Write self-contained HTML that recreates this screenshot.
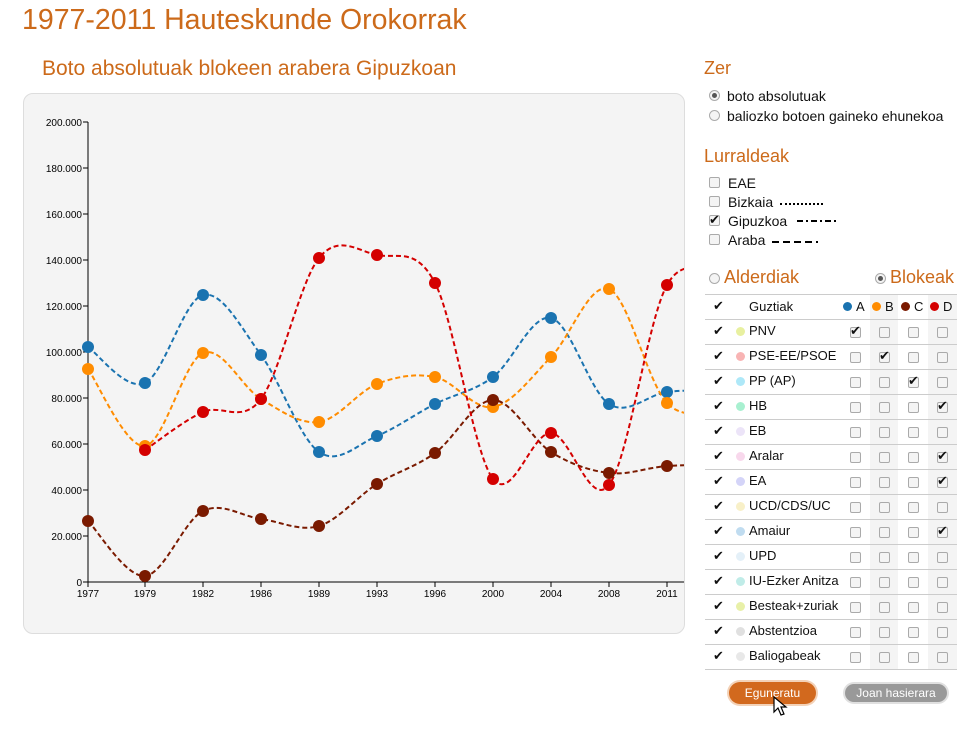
<!DOCTYPE html>
<html><head><meta charset="utf-8">
<style>
body{margin:0;width:979px;height:730px;background:#fff;font-family:"Liberation Sans",sans-serif;position:relative;overflow:hidden}
.t{position:absolute;color:#cc6a1a;white-space:nowrap}
.s{position:absolute;font-size:14px;color:#111;white-space:nowrap}
.rad{position:absolute;width:9px;height:9px;border:1px solid #aaa;border-radius:50%;background:#f4f4f4}
.rad.on::after{content:"";position:absolute;left:2px;top:2px;width:5px;height:5px;border-radius:50%;background:#555}
.cb{position:absolute;width:9px;height:9px;border:1px solid #aaa;border-radius:2px;background:#f4f4f4}
.ck{position:absolute;font-size:13px;color:#111}
</style></head><body>
<div class="t" style="left:22px;top:4px;font-size:28.5px">1977-2011 Hauteskunde Orokorrak</div>
<div class="t" style="left:42px;top:57px;font-size:21px">Boto absolutuak blokeen arabera Gipuzkoan</div>
<div style="position:absolute;left:23px;top:93px;width:660px;height:539px;background:#f4f4f4;border:1px solid #ddd;border-radius:10px"></div>
<svg id="ch" style="position:absolute;left:0;top:0" width="690" height="640"></svg>

<div class="t" style="left:704px;top:58px;font-size:18px">Zer</div>
<div class="rad on" style="left:709px;top:90px"></div><div class="s" style="left:727px;top:88px">boto absolutuak</div>
<div class="rad" style="left:709px;top:110px"></div><div class="s" style="left:727px;top:108px">baliozko botoen gaineko ehunekoa</div>
<div class="t" style="left:704px;top:146px;font-size:18px">Lurraldeak</div>
<div class="cb" style="left:709px;top:177px"></div><div class="s" style="left:728px;top:175px">EAE</div>
<div class="cb" style="left:709px;top:196px"></div><div class="s" style="left:728px;top:194px">Bizkaia</div>
<div style="position:absolute;left:780px;top:203px;width:43px;border-top:2px dotted #000"></div>
<div class="cb" style="left:709px;top:215px"></div><div class="ck" style="left:709px;top:212px">✔</div><div class="s" style="left:728px;top:213px">Gipuzkoa</div>
<svg style="position:absolute;left:797px;top:219px" width="42" height="4"><line x1="0" y1="2" x2="42" y2="2" stroke="#000" stroke-width="2" stroke-dasharray="6,3,2,3"/></svg>
<div class="cb" style="left:709px;top:234px"></div><div class="s" style="left:728px;top:232px">Araba</div>
<svg style="position:absolute;left:772px;top:240px" width="46" height="4"><line x1="0" y1="2" x2="46" y2="2" stroke="#000" stroke-width="2" stroke-dasharray="7,4"/></svg>
<div class="rad" style="left:709px;top:273px"></div><div class="t" style="left:724px;top:267px;font-size:18px">Alderdiak</div>
<div class="rad on" style="left:875px;top:273px"></div><div class="t" style="left:890px;top:267px;font-size:18px">Blokeak</div>
<div id="tbl"></div>
<div style="position:absolute;left:729px;top:682px;width:87px;height:22px;border-radius:12px;background:#d2691e;box-shadow:0 0 0 2px #f3d2b8;color:#fff;font-size:12px;text-align:center;line-height:22px">Eguneratu</div>
<div style="position:absolute;left:845px;top:684px;width:102px;height:18px;border-radius:10px;background:#999;box-shadow:0 0 0 2px #e0e0e0;color:#fff;font-size:12px;text-align:center;line-height:18px">Joan hasierara</div>
<svg style="position:absolute;left:773px;top:696px" width="16" height="22"><path d="M1 1 L1 16 L5 12 L8 19 L11 18 L8 11 L13 11 Z" fill="#fff" stroke="#000" stroke-width="1.2"/></svg>
<script>
var svg=document.getElementById('ch'),h='';
var X=[88,145,203,261,319,377,435,493,551,609,667];
var yrs=[1977,1979,1982,1986,1989,1993,1996,2000,2004,2008,2011];
for(var i=0;i<=10;i++){var y=582-i*46;h+='<line x1="83" y1="'+y+'" x2="88" y2="'+y+'" stroke="#000"/><text x="82" y="'+(y+4)+'" font-size="10" text-anchor="end" font-family="Liberation Sans">'+(i==0?'0':(i*20)+'.000')+'</text>';}
h+='<line x1="88" y1="122" x2="88" y2="582" stroke="#000"/><line x1="88" y1="582" x2="684" y2="582" stroke="#000"/>';
X.forEach(function(x,i){h+='<line x1="'+x+'" y1="582" x2="'+x+'" y2="587" stroke="#000"/><text x="'+x+'" y="597" font-size="10" text-anchor="middle" font-family="Liberation Sans">'+yrs[i]+'</text>';});
var S=[
['#1a73b0',[347,383,295,355,452,436,404,377,318,404,392],0,390],
['#ff8c00',[369,446,353,399,422,384,377,407,357,289,403],0,410],
['#7a1a00',[521,576,511,519,526,484,453,400,452,473,466],0,465],
['#d40000',[450,412,399,258,255,283,479,433,485,285],1,277]];
h+='<defs><clipPath id="cp"><rect x="60" y="100" width="624" height="500"/></clipPath></defs>';
var dots='';
S.forEach(function(s){var xs=X.slice(s[2]),ys=s[1];var P=xs.map(function(x,i){return[x,ys[i]]});P.push([725,s[3]]);
var d='M'+P[0][0]+','+P[0][1];
for(var i=0;i<P.length-1;i++){var p0=P[i-1]||P[i],p1=P[i],p2=P[i+1],p3=P[i+2]||p2;
d+=' C'+(p1[0]+(p2[0]-p0[0])/6)+','+(p1[1]+(p2[1]-p0[1])/6)+' '+(p2[0]-(p3[0]-p1[0])/6)+','+(p2[1]-(p3[1]-p1[1])/6)+' '+p2[0]+','+p2[1];}
h+='<path d="'+d+'" fill="none" stroke="'+s[0]+'" stroke-width="2" stroke-dasharray="5,3" clip-path="url(#cp)"/>';
xs.forEach(function(x,i){dots+='<circle cx="'+x+'" cy="'+ys[i]+'" r="6" fill="'+s[0]+'"/>';});});
svg.innerHTML=h+dots;
var rows=[['PNV','#e8f0a0',0],['PSE-EE/PSOE','#f8b4b4',1],['PP (AP)','#aee8f8',2],['HB','#a8f0d0',3],['EB','#ece4f8',-1],['Aralar','#f8d8ec',3],['EA','#d4d4f8',3],['UCD/CDS/UC','#f8f0c8',-1],['Amaiur','#c0dcf0',3],['UPD','#e4f0f8',-1],['IU-Ezker Anitza','#c0ece8',-1],['Besteak+zuriak','#e8f0a8',-1],['Abstentzioa','#e0e0e0',-1],['Baliogabeak','#e8e8e8',-1]];
var cx=[855,884,913,942],t='';
t+='<div style="position:absolute;left:870px;top:294px;width:28px;height:376px;background:#f4f4f4"></div><div style="position:absolute;left:928px;top:294px;width:29px;height:376px;background:#f4f4f4"></div>';
t+='<div style="position:absolute;left:705px;top:294px;width:252px;border-top:1px solid #ccc"></div>';
t+='<div class="ck" style="left:713px;top:298px">✔</div><div class="s" style="left:749px;top:299px;font-size:13px">Guztiak</div>';
['#1a73b0','#ff8c00','#7a1a00','#d40000'].forEach(function(c,i){t+='<div style="position:absolute;left:'+(cx[i]-12)+'px;top:302px;width:9px;height:9px;border-radius:50%;background:'+c+'"></div><div class="s" style="left:'+(cx[i]+1)+'px;top:299px;font-size:13px">'+'ABCD'[i]+'</div>';});
t+='<div style="position:absolute;left:705px;top:319px;width:252px;border-top:1px solid #ccc"></div>';
rows.forEach(function(r,k){var y=331+k*25;
t+='<div class="ck" style="left:713px;top:'+(y-8)+'px">✔</div><div style="position:absolute;left:736px;top:'+(y-4)+'px;width:9px;height:9px;border-radius:50%;background:'+r[1]+'"></div><div class="s" style="left:749px;top:'+(y-8)+'px;font-size:13px">'+r[0]+'</div>';
cx.forEach(function(x,i){t+='<div class="cb" style="left:'+(x-5)+'px;top:'+(y-4)+'px"></div>';if(r[2]==i)t+='<div class="ck" style="left:'+(x-5)+'px;top:'+(y-8)+'px">✔</div>';});
t+='<div style="position:absolute;left:705px;top:'+(y+13)+'px;width:252px;border-top:1px solid #ccc"></div>';});
document.getElementById('tbl').innerHTML=t;
</script>
</body></html>
